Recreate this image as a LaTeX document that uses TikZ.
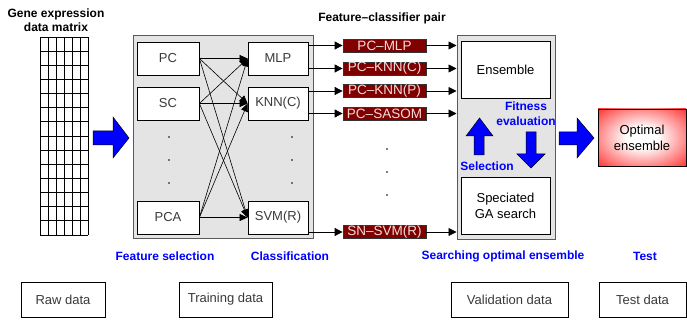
\documentclass[tikz,border=0pt]{standalone}
\usepackage{fontspec}
\setmainfont{Liberation Sans}
\usetikzlibrary{arrows.meta}

\definecolor{boxgray}{HTML}{E4E4E4}
\definecolor{txtgray}{HTML}{3A3A3A}
\definecolor{pairred}{HTML}{800000}
\definecolor{pairtxt}{HTML}{F4DCDC}
\definecolor{labelblue}{HTML}{0000FF}

\pgfdeclareradialshading{glow}{\pgfpoint{0bp}{0bp}}{%
  color(0bp)=(white); color(9bp)=(white); color(26bp)=(red!50!white);
  color(42bp)=(red); color(50bp)=(red)}

\tikzset{
  fs/.style={font=\fontsize{#1}{#1}\selectfont},
  plainbox/.style={draw=black, line width=0.8pt, fill=white, text=txtgray,
    fs=13, inner sep=0pt},
  darkbox/.style={plainbox, text=black, align=center, fs=13},
  panel/.style={draw=black!65, line width=1pt, fill=boxgray, inner sep=0pt},
  pairbox/.style={draw=black!80, line width=0.8pt, fill=pairred, text=pairtxt,
    fs=13.5, inner sep=0pt, minimum width=83pt, minimum height=13pt},
  title/.style={font=\bfseries\fontsize{12}{13.5}\selectfont, align=center},
  stage/.style={font=\bfseries\fontsize{12}{12}\selectfont, text=labelblue},
  link/.style={line width=0.6pt, -{Triangle[length=8pt,width=7pt]}},
  feed/.style={line width=0.8pt, -{Triangle[length=8pt,width=8pt]}},
  bigarrow/.style={fill=labelblue, draw=black, line width=0.5pt},
}

\begin{document}
\begin{tikzpicture}[x=1pt, y=-1pt]
\useasboundingbox (0,0) rectangle (687,320);

% raw expression matrix
\node[title] (mattitle) at (56,20) {Gene expression\\data matrix};
\foreach \i in {0,...,6}
  \draw[line width=0.9pt] (40+8*\i,37) -- (40+8*\i,235);
\foreach \j in {0,...,14}
  \draw[line width=0.9pt] (40,37+198/14*\j) -- (88,37+198/14*\j);

% arrow into feature selection
\filldraw[bigarrow] (93,131) -- (113,131) -- (113,117) -- (129,138)
  -- (113,158) -- (113,145) -- (93,145) -- cycle;

% feature selection / classification panel
\node[panel, minimum width=180pt, minimum height=202pt] (fsbox) at (223,137) {};
\foreach \n/\t/\y in {pc/PC/58.5, sc/SC/103.5, pca/PCA/217.5}
  \node[plainbox, minimum width=62pt, minimum height=33pt] (\n) at (168,\y) {\t};
\foreach \n/\t/\y in {mlp/MLP/58.5, knn/KNN(C)/103.5, svm/SVM(R)/217.5}
  \node[plainbox, minimum width=60pt, minimum height=33pt] (\n) at (278,\y) {\t};
\foreach \y in {137,160,183} {
  \fill (169,\y) circle (0.9pt);
  \fill (292,\y) circle (0.9pt);
}
\foreach \s in {pc,sc,pca}
  \foreach \c in {mlp,knn,svm}
    \draw[link] (\s.east) -- (\c.west);

% feature-classifier pairs
\node[title] (pairtitle) at (382,18) {Feature\textendash classifier pair};
\node[pairbox] (p1) at (384.5,45.5) {PC\textendash MLP};
\node[pairbox] (p2) at (384.5,68.5) {PC\textendash KNN(C)};
\node[pairbox] (p3) at (384.5,91) {PC\textendash KNN(P)};
\node[pairbox] (p4) at (384.5,113.5) {PC\textendash SASOM};
\node[pairbox] (p5) at (384.5,232) {SN\textendash SVM(R)};
\foreach \y in {149,172,195}
  \fill (387,\y) circle (0.9pt);

% ensemble search panel
\node[panel, minimum width=98pt, minimum height=203pt] (gabox) at (506,137.5) {};
\node[darkbox, minimum width=89pt, minimum height=57pt] (ens) at (505.5,69.5) {Ensemble};
\node[darkbox, minimum width=89pt, minimum height=57pt,
  font=\fontsize{13}{16}\selectfont] (spec) at (505.5,205.5)
  {Speciated\\GA search};

\draw[feed] (mlp.east |- p1.west) -- (p1.west);
\draw[feed] (mlp.east |- p2.west) -- (p2.west);
\draw[feed] (knn.east |- p3.west) -- (p3.west);
\draw[feed] (knn.east |- p4.west) -- (p4.west);
\draw[feed] (svm.east |- p5.west) -- (p5.west);
\foreach \p in {p1,p2,p3,p4,p5}
  \draw[feed] (\p.east) -- (\p.east -| gabox.west);

% selection / evaluation loop
\filldraw[bigarrow] (479.5,118) -- (493,136) -- (484,136) -- (484,155)
  -- (474,155) -- (474,136) -- (466,136) -- cycle;
\filldraw[bigarrow] (526,132) -- (536,132) -- (536,154) -- (545,154)
  -- (531,168) -- (517,154) -- (526,154) -- cycle;
\node[stage, align=center, font=\bfseries\fontsize{12}{15}\selectfont] (fit) at (526,113.5)
  {Fitness\\evaluation};
\node[stage] (sel) at (487,166) {Selection};

% arrow to the final result
\filldraw[bigarrow] (559,132) -- (577,132) -- (577,118) -- (594,138)
  -- (577,158) -- (577,145) -- (559,145) -- cycle;
\node[darkbox, shading=glow, draw=black, minimum width=88pt, minimum height=57pt,
  align=center, font=\fontsize{13}{16}\selectfont] (opt) at (642,137.5)
  {Optimal\\ensemble};

% stage labels
\node[stage] (lfs) at (165,256) {Feature selection};
\node[stage] (lcl) at (290,256) {Classification};
\node[stage] (lse) at (503,256) {Searching optimal ensemble};
\node[stage] (lte) at (645,256) {Test};

% data partitions
\node[plainbox, minimum width=84pt, minimum height=35pt] (raw) at (63,299.5) {Raw data};
\node[plainbox, minimum width=93pt, minimum height=35pt] (train) at (225.5,299.5) {Training data};
\node[plainbox, minimum width=117pt, minimum height=35pt] (valid) at (509.5,299.5) {Validation data};
\node[plainbox, minimum width=87pt, minimum height=35pt] (test) at (642.5,299.5) {Test data};
\end{tikzpicture}
\end{document}
